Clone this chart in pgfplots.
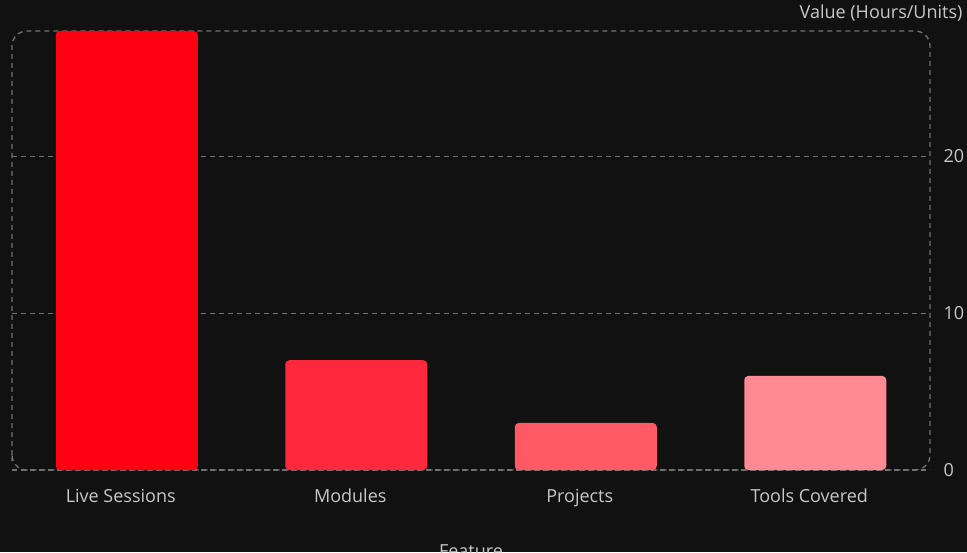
\documentclass[border=0pt]{standalone}
\usepackage{pgfplots}
\pgfplotsset{compat=1.18}
\usepackage{fontspec}
\setmainfont{Open Sans}

\definecolor{bg}{HTML}{111111}
\definecolor{gridc}{HTML}{727272}
\definecolor{txt}{HTML}{C8C8C8}
\definecolor{barA}{HTML}{FF0013}
\definecolor{barB}{HTML}{FF283C}
\definecolor{barC}{HTML}{FF5A66}
\definecolor{barD}{HTML}{FF8A93}

\begin{document}
\begin{tikzpicture}[font=\fontsize{18}{22}\selectfont]
    \fill[bg] (0pt,0pt) rectangle (967pt,552pt);
    \useasboundingbox (0pt,0pt) rectangle (967pt,552pt);
    \begin{axis}[
            at={(12pt,82pt)},
            anchor=south west,
            scale only axis,
            width=918pt,
            height=439pt,
            xmin=-0.5, xmax=3.5,
            ymin=0, ymax=28,
            enlargelimits=false,
            xtick={0,1,2,3},
            xticklabels={Live Sessions,Modules,Projects,Tools Covered},
            ytick={0,10,20},
            yticklabel pos=right,
            tick style={draw=none},
            ymajorgrids,
            grid style={gridc, line width=1.3pt, dash pattern=on 5pt off 4pt},
            axis line style={gridc, line width=1.3pt, dash pattern=on 5pt off 4pt, rounded corners=15pt},
            /pgf/number format/assume math mode=true,
            tick label style={txt},
            xticklabel style={anchor=base, yshift=-32pt, xshift=-6pt},
            yticklabel style={anchor=base west, xshift=10pt, yshift=-6pt},
            ylabel={Value (Hours/Units)},
            xlabel={Feature},
            every axis y label/.style={at={(rel axis cs:1,1)}, anchor=base east, xshift=36pt, yshift=12pt, txt},
            every axis x label/.style={at={(rel axis cs:0.5,0)}, anchor=base, yshift=-87pt, txt},
            bar width=142pt,
            every axis plot/.append style={ybar, bar shift=0pt, draw=none, rounded corners=4pt},
        ]
        \addplot[fill=barA] coordinates {(0,28)};
        \addplot[fill=barB] coordinates {(1,7)};
        \addplot[fill=barC] coordinates {(2,3)};
        \addplot[fill=barD] coordinates {(3,6)};
    \end{axis}
\end{tikzpicture}
\end{document}
